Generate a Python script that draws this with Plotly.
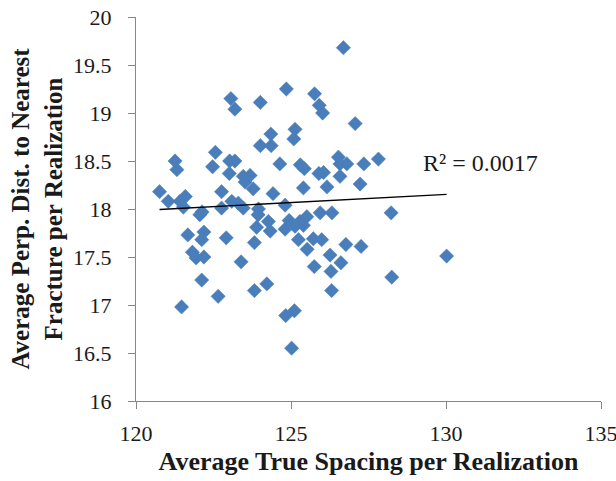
import numpy as np
import plotly.graph_objects as go

# Average true spacing per realization (x)
spacing = [126.69, 124.85, 125.76, 125.91, 126.02, 123.06, 123.19, 124.01, 127.07, 125.13,
           125.09, 124.35, 124.01, 124.36, 122.56, 121.26, 121.32, 122.47, 123.02, 123.19,
           123.01, 123.46, 123.68, 123.52, 123.78, 124.64, 125.30, 125.43, 125.40, 124.42,
           125.90, 126.05, 126.16, 126.53, 126.80, 126.58, 126.58, 120.76, 121.04, 121.59,
           121.42, 121.53, 122.76, 123.09, 123.30, 123.46, 122.76, 124.81, 123.95, 123.94,
           122.13, 122.06, 124.27, 123.89, 124.33, 124.94, 124.81, 125.13, 125.29, 125.51,
           125.40, 125.94, 126.32, 127.35, 127.82, 127.23, 128.23, 121.67, 122.19, 122.12,
           122.91, 123.82, 125.24, 125.72, 125.99, 126.77, 127.26, 121.82, 121.94, 122.19,
           123.39, 125.52, 126.26, 125.75, 126.29, 126.61, 122.12, 123.82, 124.22, 122.65,
           126.31, 121.47, 124.83, 125.11, 125.02, 130.02, 128.25]

# Average perpendicular distance to nearest fracture per realization (y)
distance = [19.68, 19.25, 19.20, 19.08, 19.00, 19.15, 19.04, 19.11, 18.89, 18.83,
            18.73, 18.78, 18.66, 18.66, 18.59, 18.50, 18.41, 18.44, 18.50, 18.50,
            18.37, 18.34, 18.35, 18.28, 18.21, 18.47, 18.46, 18.42, 18.22, 18.16,
            18.37, 18.38, 18.23, 18.54, 18.47, 18.47, 18.34, 18.18, 18.08, 18.13,
            18.08, 18.02, 18.18, 18.08, 18.06, 18.01, 18.01, 18.04, 18.00, 17.94,
            17.97, 17.94, 17.87, 17.81, 17.77, 17.88, 17.79, 17.82, 17.87, 17.92,
            17.83, 17.96, 17.96, 18.47, 18.52, 18.26, 17.96, 17.73, 17.76, 17.68,
            17.70, 17.65, 17.68, 17.69, 17.68, 17.63, 17.61, 17.55, 17.49, 17.50,
            17.45, 17.58, 17.52, 17.40, 17.35, 17.44, 17.26, 17.15, 17.22, 17.09,
            17.15, 16.98, 16.89, 16.94, 16.55, 17.51, 17.29]

x_ticks = [120, 125, 130, 135]
x_tick_labels = ["120", "125", "130", "135"]
y_ticks = [16, 16.5, 17, 17.5, 18, 18.5, 19, 19.5, 20]
y_tick_labels = ["16", "16.5", "17", "17.5", "18", "18.5", "19", "19.5", "20"]
r2_label = "R² = 0.0017"

xs = np.array(spacing)
ys = np.array(distance)
slope, intercept = np.polyfit(xs, ys, 1)
trend_x = [float(xs.min()), float(xs.max())]
trend_y = [slope * v + intercept for v in trend_x]

serif = "Liberation Serif"
txt = "#1a1a1a"
axis_col = "#868686"

fig = go.Figure()
fig.add_trace(go.Scatter(
    x=spacing, y=distance, mode="markers",
    marker=dict(symbol="diamond", size=11, color="#4A7EBB",
                line=dict(color="#4A7EBB", width=0.5)),
    showlegend=False, hoverinfo="x+y"))
fig.add_trace(go.Scatter(
    x=trend_x, y=trend_y, mode="lines",
    line=dict(color="black", width=1.3), showlegend=False, hoverinfo="skip"))

fig.add_annotation(x=129.2, y=18.48, xref="x", yref="y", text=r2_label,
                   showarrow=False, xanchor="left", yanchor="middle",
                   font=dict(family=serif, size=24, color=txt))

fig.update_layout(
    width=616, height=481,
    margin=dict(l=136, r=15, t=17, b=80),
    paper_bgcolor="white", plot_bgcolor="white",
    font=dict(family=serif, size=22, color=txt),
    xaxis=dict(range=[120, 135], tickvals=x_ticks, ticktext=x_tick_labels,
               tickfont=dict(family=serif, size=22, color=txt),
               ticklabeloverflow="allow", automargin=False,
               showgrid=False, zeroline=False, showline=True, linecolor=axis_col,
               linewidth=1.2, ticks="outside", ticklen=7, tickcolor=axis_col,
               tickwidth=1.2, ticklabelstandoff=5,
               title=dict(text="<b>Average True Spacing per Realization</b>",
                          font=dict(family=serif, size=26, color=txt),
                          standoff=7)),
    yaxis=dict(range=[16, 20], tickvals=y_ticks, ticktext=y_tick_labels,
               tickfont=dict(family=serif, size=22, color=txt),
               automargin=False,
               showgrid=False, zeroline=False, showline=True, linecolor=axis_col,
               linewidth=1.2, ticks="outside", ticklen=7, tickcolor=axis_col,
               tickwidth=1.2, ticklabelstandoff=12,
               title=dict(text="<b>Average Perp. Dist. to Nearest<br>Fracture per Realization</b>",
                          font=dict(family=serif, size=25, color=txt),
                          standoff=3)),
)

fig.write_html("out.html")
